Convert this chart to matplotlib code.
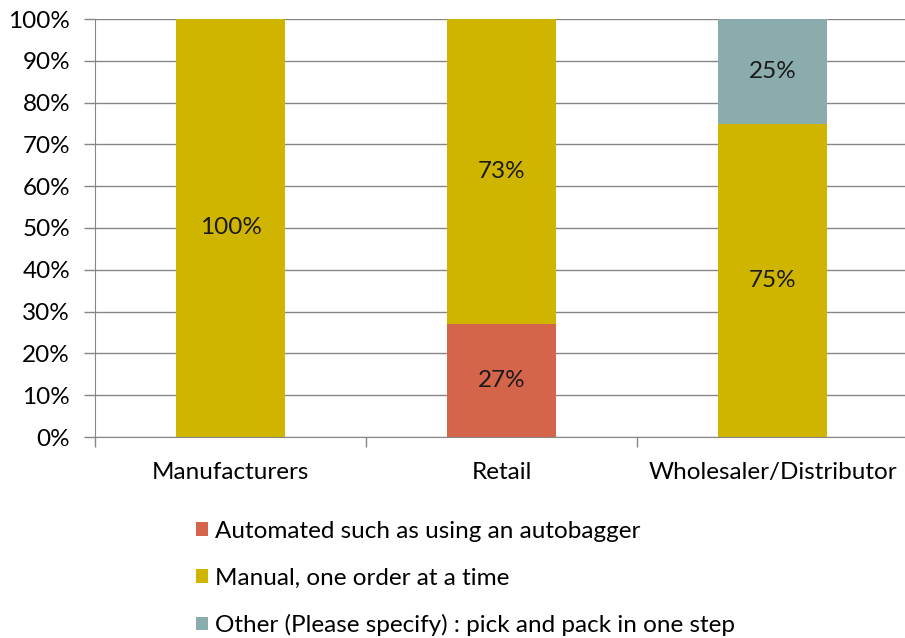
import matplotlib.pyplot as plt
from matplotlib.ticker import FixedLocator

plt.rcParams['font.family'] = ['Lato', 'DejaVu Sans']

# data
categories = ["Manufacturers", "Retail", "Wholesaler/Distributor"]
automated = [0, 27, 0]
manual = [100, 73, 75]
other = [0, 0, 25]
series_names = ["Automated such as using an autobagger",
                "Manual, one order at a time",
                "Other (Please specify) : pick and pack in one step"]
colors = ["#D4654A", "#CFB500", "#8AACAC"]

FS = 17.5

fig = plt.figure(figsize=(9.05, 6.38), dpi=100)
ax = fig.add_axes([95 / 905, 1 - 437 / 638, 813 / 905, 418 / 638])

x = list(range(len(categories)))
bottom = [0] * len(categories)
for vals, name, col in zip([automated, manual, other], series_names, colors):
    ax.bar(x, vals, width=0.4, bottom=bottom, color=col, label=name, zorder=2)
    for xi, b, v in zip(x, bottom, vals):
        if v > 0:
            ax.text(xi, b + v / 2, f"{v}%", ha="center", va="center", fontsize=FS, color="#1a1a1a", zorder=3)
    bottom = [b + v for b, v in zip(bottom, vals)]

ax.set_xlim(-0.5, 2.5)
ax.set_ylim(0, 100)
ax.set_yticks(range(0, 101, 10))
ax.set_yticklabels([f"{t}%" for t in range(0, 101, 10)], fontsize=FS)
ax.yaxis.grid(True, color="#868686", linewidth=1, zorder=0)
ax.set_axisbelow(True)

ax.set_xticks(x)
ax.set_xticklabels(categories, fontsize=FS)
ax.xaxis.set_minor_locator(FixedLocator([-0.5, 0.5, 1.5, 2.5]))
ax.tick_params(axis="x", which="major", length=0, pad=18)
ax.tick_params(axis="x", which="minor", length=7, color="#868686", width=1)
ax.tick_params(axis="y", length=8, color="#868686", width=1, pad=10)

for side in ["top", "right"]:
    ax.spines[side].set_visible(False)
for side in ["left", "bottom"]:
    ax.spines[side].set_color("#868686")

fig.legend(loc="upper left", bbox_to_anchor=(196 / 905, 1 - 521 / 638), frameon=False,
           fontsize=FS, handlelength=0.5, handleheight=0.5, handletextpad=0.3,
           labelspacing=1.05, borderaxespad=0, borderpad=0)

fig.savefig("out.png", dpi=100)
